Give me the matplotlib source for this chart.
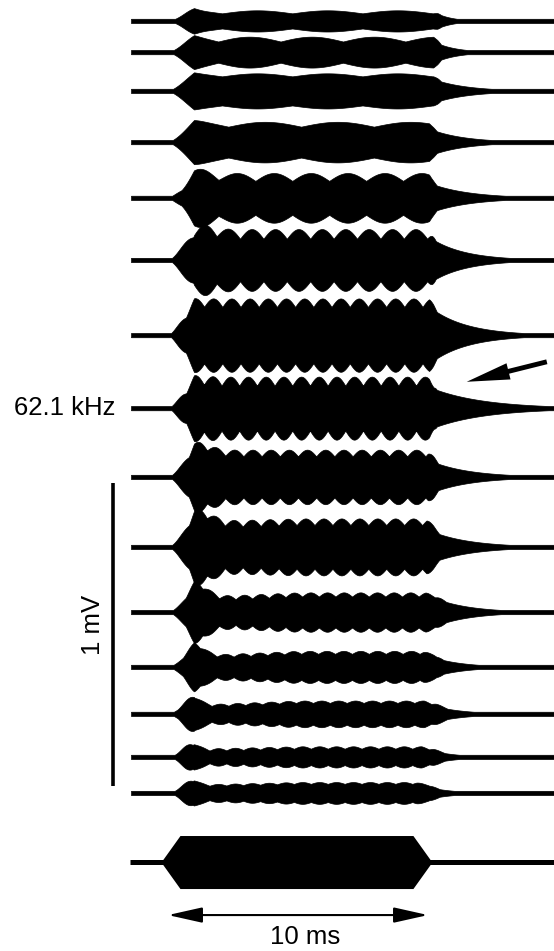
import numpy as np
import matplotlib
matplotlib.use('Agg')
import matplotlib.pyplot as plt
from matplotlib.patches import FancyArrowPatch

plt.rcParams['font.family'] = ['Liberation Sans', 'DejaVu Sans']

# trace baselines (mV, counted downward from top) and envelope readings
offsets = [0.069, 0.172, 0.300, 0.469, 0.653, 0.858, 1.106, 1.347,
           1.574, 1.805, 2.020, 2.201, 2.356, 2.498, 2.617]
onset_peak = [0.046, 0.059, 0.063, 0.073, 0.096, 0.116, 0.122, 0.109,
              0.116, 0.125, 0.102, 0.083, 0.073, 0.063, 0.059]
onset_time = [0.73, 0.73, 0.73, 0.92, 1.23, 1.42, 1.04, 1.04,
              1.15, 1.15, 1.0, 0.9, 0.7, 0.62, 0.62]
onset_width = [0.45, 0.5, 0.5, 0.6, 0.6, 0.6, 0.6, 0.6,
               0.65, 0.7, 0.65, 0.6, 0.55, 0.5, 0.5]
plateau_early = [0.030, 0.043, 0.053, 0.059, 0.069, 0.086, 0.107, 0.089,
                 0.079, 0.075, 0.045, 0.035, 0.028, 0.024, 0.026]
plateau = [0.030, 0.043, 0.053, 0.059, 0.069, 0.086, 0.107, 0.089,
           0.079, 0.083, 0.058, 0.048, 0.040, 0.031, 0.033]
ripple = [0.005, 0.008, 0.005, 0.008, 0.013, 0.016, 0.014, 0.015,
          0.011, 0.011, 0.007, 0.005, 0.004, 0.004, 0.003]
ripple_period = [2.7, 2.4, 2.7, 2.8, 1.42, 0.90, 0.70, 0.68,
                 0.70, 0.69, 0.64, 0.65, 0.65, 0.65, 0.65]
end_time = [10.35, 10.35, 10.35, 10.19, 10.19, 10.15, 10.19, 10.19,
            10.19, 10.19, 10.3, 10.2, 10.3, 10.2, 10.0]
end_fall = [0.3, 0.3, 0.3, 0.3, 0.3, 0.3, 0.3, 0.3,
            0.4, 0.5, 0.8, 0.8, 0.9, 0.9, 0.9]
tail_amp = [0.025, 0.030, 0.035, 0.040, 0.045, 0.070, 0.085, 0.065,
            0.050, 0.050, 0.045, 0.032, 0.025, 0.020, 0.020]
tail_tau = [0.6, 0.8, 1.3, 1.3, 1.5, 1.3, 1.4, 2.0,
            1.5, 1.5, 1.35, 1.15, 1.15, 0.96, 0.96]
noise = 0.007

# stimulus envelope (ms) and scale items
stim_t = [-1.46, -0.27, 0.46, 9.42, 10.15, 14.85]
stim_h = [0.0, 0.0, 0.0875, 0.0875, 0.0, 0.0]
stim_y = 2.845
trace_start, trace_stop = -1.42, 14.85
scale_bar_mV = [1.594, 2.594]
time_bar_ms = [0.0, 10.0]


def envelope(t, i):
    rise = np.clip(t / 1.0, 0, 1) ** 1.3
    ph = onset_time[i]
    grow = np.clip((t - 1.5) / 3.5, 0, 1)
    p = plateau_early[i] + (plateau[i] - plateau_early[i]) * grow
    scal = p + ripple[i] * (2 * np.abs(np.cos(np.pi * (t - ph) / ripple_period[i])) - 1)
    bump = max(onset_peak[i] - plateau_early[i] - ripple[i], 0) * \
        np.exp(-((t - ph) / onset_width[i]) ** 2)
    env = rise * (scal + bump)
    w = np.clip((t - end_time[i] + end_fall[i] / 2) / end_fall[i], 0, 1)
    tail = tail_amp[i] * np.exp(-np.clip(t - end_time[i], 0, None) / tail_tau[i])
    env = (1 - w) * env + w * tail
    return np.maximum(env, noise)


fig = plt.figure(figsize=(5.54, 9.51), dpi=100)
ax = fig.add_axes([0, 0, 1, 1])
ax.set_xlim(-6.4615, 14.846)
ax.set_ylim(951 / 303, 0)
ax.axis('off')

t = np.arange(trace_start, trace_stop, 0.004)
for i, off in enumerate(offsets):
    a = envelope(t, i)
    ax.fill_between(t, off - a, off + a, color='black', lw=0.5, edgecolor='black')

# stimulus
ax.plot([stim_t[0], stim_t[-1]], [stim_y, stim_y], color='black', lw=3.6,
        solid_capstyle='butt')
sh = np.array(stim_h)
ax.fill_between(stim_t, stim_y - sh, stim_y + sh, color='black', lw=0)

# 10 ms arrow
ax.add_patch(FancyArrowPatch((time_bar_ms[0], 3.02), (time_bar_ms[1], 3.02),
                             arrowstyle='<|-|>,head_length=21,head_width=4.7',
                             mutation_scale=1, color='black', lw=1.5,
                             shrinkA=0, shrinkB=0))
ax.text(5.27, 3.092, '10 ms', ha='center', va='center', fontsize=18.5)

# 1 mV scale bar
ax.plot([-2.115, -2.115], scale_bar_mV, color='black', lw=2.6, solid_capstyle='butt')
ax.text(-2.88, 2.063, '1 mV', rotation=90, ha='center', va='center', fontsize=18.5)

# frequency label and pointer
ax.text(-2.04, offsets[7], '62.1 kHz', ha='right', va='center', fontsize=18.5)
ax.add_patch(FancyArrowPatch((14.57, 1.194), (11.49, 1.260),
                             arrowstyle='simple,head_length=31,head_width=12,tail_width=3.5',
                             mutation_scale=1, color='black', lw=0,
                             shrinkA=0, shrinkB=0))

fig.savefig('out.png', dpi=100)
